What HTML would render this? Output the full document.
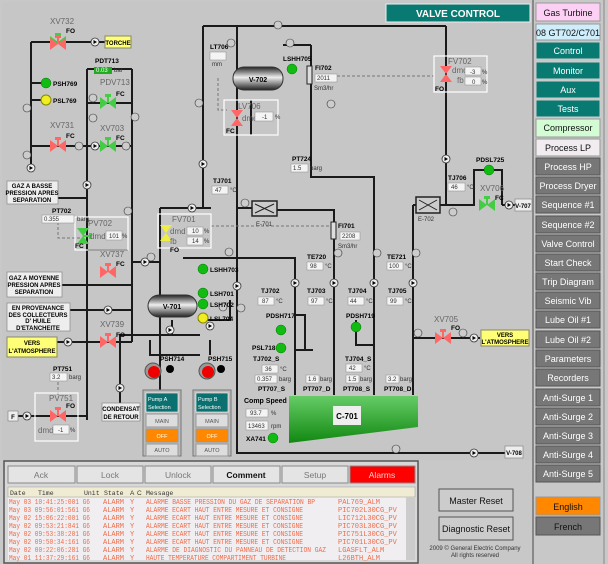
<!DOCTYPE html>
<html><head><meta charset="utf-8"><style>
html,body{margin:0;padding:0;background:#c8c8c8}
svg{display:block}
text{font-family:"Liberation Sans",sans-serif}
.l{font-size:7px;font-weight:bold;fill:#000}
.g{font-size:8px;fill:#666}
.s{font-size:6px;fill:#333}
.p{stroke:#1a1a1a;stroke-width:2;fill:none}
.d{stroke:#777;stroke-width:1;fill:none;stroke-dasharray:3 2}
.bx{fill:#eee;stroke:#888;stroke-width:.7}
.fr{fill:none;stroke:#fff;stroke-width:1.2}
.nb{font-size:9px;fill:#fff;text-anchor:middle}
.nd{font-size:9px;fill:#111;text-anchor:middle}
.m text{font-family:"Liberation Mono",monospace;font-size:7px;fill:#f06a48}
</style></head><body>
<svg width="608" height="564" viewBox="0 0 608 564" xmlns="http://www.w3.org/2000/svg">
<defs>
<g id="vg"><polygon points="-8,-6 0,0 -8,6" fill="#4c4"/><polygon points="8,-6 0,0 8,6" fill="#4c4"/><rect x="-3" y="-9" width="6" height="3" fill="#4c4"/><line x1="0" y1="-6" x2="0" y2="0" stroke="#4c4" stroke-width="2"/></g>
<g id="vr"><polygon points="-8,-6 0,0 -8,6" fill="#f66"/><polygon points="8,-6 0,0 8,6" fill="#f66"/><rect x="-3" y="-9" width="6" height="3" fill="#f66"/><line x1="0" y1="-6" x2="0" y2="0" stroke="#f66" stroke-width="2"/></g>
<g id="ci"><circle r="4" fill="#eee" stroke="#333" stroke-width=".8"/><polygon points="-1.5,-2 2,0 -1.5,2" fill="#000"/></g>
<g id="ca"><circle r="4" fill="#ccc" stroke="#333" stroke-width=".6"/></g>
<linearGradient id="tk" x1="0" y1="0" x2="0" y2="1"><stop offset="0" stop-color="#222"/><stop offset=".45" stop-color="#eee"/><stop offset="1" stop-color="#222"/></linearGradient>
<linearGradient id="cg" x1="0" y1="0" x2="0" y2="1"><stop offset="0" stop-color="#6c6"/><stop offset="1" stop-color="#181"/></linearGradient>
</defs>
<rect width="608" height="564" fill="#c8c8c8"/>
<rect x="2" y="2" width="530" height="458" fill="#c6c6c6"/>

<path class="p" d="M31,42 H105 M31,42 V168 M31,83 H42 M31,100 H42 M31,146 H132 M87,69 H132 M87,69 V420 M132,69 V300 M87,103 H132 M87,250 H128 M58,198 H87 M132,262 H160 M160,208 V420 M160,208 H211 M132,270 V300 M62,285 H132 M70,310 H132 M57,342 H132 M132,300 V342 M18,416 H87 M87,420 V300"/>
<path class="d" d="M58,222 V238 H80 M58,382 V395"/>
<path class="p" d="M203,26 H446 M203,26 V208 M237,26 V453 H505 M237,208 H252 M276,210 H334 V395 M311,45 V177 H374 V395 M283,45 H311 M251,135 V100 M374,177 V395 M413,205 V395 M413,205 H475 M446,26 V205 M502,205 H515 M183,258 H295 V395 M198,320 H230 V300 M413,338 H480 M296,315 H305 V350 H296 M304,350 H313"/>
<path class="d" d="M211,226 H333 M337,76 H434 M218,78 V110 H227"/>
<path class="p" d="M474,205 V170 H502 V205 M356,320 V345 H374 M172,320 V335 H120 V405 M172,335 H200 M150,340 V355 H200 M210,340 V355 H210"/>

<use href="#vg" x="58" y="42"/><use href="#vr" x="58" y="44"/>
<use href="#vr" x="58" y="146"/><use href="#vg" x="108" y="103"/><use href="#vg" x="108" y="146"/>
<use href="#vr" x="108" y="272"/><use href="#vr" x="108" y="342"/><use href="#vr" x="58" y="416"/>
<use href="#vg" x="487" y="205"/><use href="#vr" x="443" y="338"/>
<g transform="translate(83,236) rotate(90)"><use href="#vg"/></g>
<g transform="translate(166,233) rotate(90)"><polygon points="-8,-6 0,0 -8,6" fill="#ee4"/><polygon points="8,-6 0,0 8,6" fill="#ee4"/></g>
<g transform="translate(237,118) rotate(90)"><polygon points="-8,-6 0,0 -8,6" fill="#f66"/><polygon points="8,-6 0,0 8,6" fill="#f66"/></g>
<g transform="translate(446,74) rotate(90)"><polygon points="-8,-6 0,0 -8,6" fill="#f66"/><polygon points="8,-6 0,0 8,6" fill="#f66"/></g>

<use href="#ci" x="31" y="168"/><use href="#ci" x="95" y="146"/><use href="#ci" x="95" y="42"/><use href="#ci" x="87" y="185"/><use href="#ci" x="145" y="262"/><use href="#ci" x="68" y="342"/><use href="#ci" x="108" y="310"/><use href="#ci" x="27" y="416"/><use href="#ci" x="120" y="388"/><use href="#ci" x="170" y="330"/><use href="#ci" x="203" y="164"/><use href="#ci" x="192" y="208"/><use href="#ci" x="237" y="286"/><use href="#ci" x="295" y="283"/><use href="#ci" x="334" y="283"/><use href="#ci" x="374" y="283"/><use href="#ci" x="413" y="283"/><use href="#ci" x="446" y="159"/><use href="#ci" x="509" y="205"/><use href="#ci" x="474" y="338"/><use href="#ci" x="474" y="453"/><use href="#ci" x="210" y="326"/>
<use href="#ca" x="79" y="146"/><use href="#ca" x="126" y="146"/><use href="#ca" x="27" y="108"/><use href="#ca" x="27" y="155"/><use href="#ca" x="93" y="98"/><use href="#ca" x="93" y="118"/><use href="#ca" x="135" y="117"/><use href="#ca" x="128" y="211"/><use href="#ca" x="151" y="257"/><use href="#ca" x="278" y="25"/><use href="#ca" x="231" y="43"/><use href="#ca" x="290" y="43"/><use href="#ca" x="199" y="103"/><use href="#ca" x="245" y="203"/><use href="#ca" x="229" y="252"/><use href="#ca" x="241" y="308"/><use href="#ca" x="223" y="307"/><use href="#ca" x="331" y="104"/><use href="#ca" x="453" y="212"/><use href="#ca" x="338" y="253"/><use href="#ca" x="377" y="253"/><use href="#ca" x="416" y="253"/><use href="#ca" x="418" y="333"/><use href="#ca" x="463" y="333"/><use href="#ca" x="396" y="449"/>

<rect x="233" y="67" width="50" height="23" rx="11" fill="url(#tk)" stroke="#333"/>
<text x="258" y="82" class="l" text-anchor="middle">V-702</text>
<rect x="148" y="295" width="49" height="22" rx="11" fill="url(#tk)" stroke="#333"/>
<text x="172" y="309" class="l" text-anchor="middle">V-701</text>
<rect x="252" y="201" width="25" height="15" fill="#ccc" stroke="#222" stroke-width="1.5"/><path d="M255,204 L274,213 M255,213 L274,204" stroke="#222"/>
<rect x="416" y="197" width="24" height="16" fill="#ccc" stroke="#222" stroke-width="1.5"/><path d="M419,200 L437,210 M419,210 L437,200" stroke="#222"/>
<text x="256" y="226" class="s">E-701</text><text x="418" y="221" class="s">E-702</text>
<rect x="307" y="66" width="5" height="18" fill="#ddd" stroke="#222"/><rect x="331" y="222" width="5" height="17" fill="#ddd" stroke="#222"/>

<polygon points="289,396 418,396 418,427 289,443" fill="url(#cg)"/>
<rect x="333" y="406" width="28" height="19" fill="#eee"/><text x="347" y="419" class="l" text-anchor="middle" style="font-size:8px">C-701</text>

<g fill="#999" stroke="#555"><circle cx="153" cy="371" r="8"/><circle cx="207" cy="371" r="8"/></g>
<circle cx="154" cy="372" r="6" fill="#e00"/><circle cx="208" cy="372" r="6" fill="#e00"/>
<circle cx="170" cy="369" r="4" fill="#000"/><circle cx="221" cy="369" r="4" fill="#000"/>

<g stroke="#070" stroke-width=".5" fill="#1b1">
<circle cx="46" cy="83" r="5"/><circle cx="292" cy="69" r="5"/><circle cx="489" cy="170" r="5"/><circle cx="203" cy="269" r="5"/><circle cx="203" cy="293" r="5"/><circle cx="203" cy="304" r="5"/><circle cx="281" cy="330" r="5"/><circle cx="281" cy="348" r="5"/><circle cx="356" cy="327" r="5"/><circle cx="273" cy="438" r="5"/></g>
<circle cx="46" cy="100" r="5" fill="#ee2" stroke="#880"/><circle cx="203" cy="318" r="5" fill="#ee2" stroke="#880"/>

<g class="bx"><rect x="7" y="181" width="51" height="23"/><rect x="7" y="272" width="55" height="25"/><rect x="7" y="303" width="63" height="28"/><rect x="102" y="403" width="38" height="18"/><rect x="8" y="411" width="10" height="10"/><rect x="505" y="446" width="18" height="12"/><rect x="515" y="199" width="17" height="12"/></g>
<rect x="105" y="36" width="26" height="12" fill="#ff7" stroke="#886"/><rect x="7" y="337" width="50" height="20" fill="#ff7" stroke="#886"/><rect x="481" y="330" width="48" height="16" fill="#ff7" stroke="#886"/>
<g class="l" text-anchor="middle" style="font-size:6px">
<text x="118" y="45">TORCHE</text><text x="32" y="188">GAZ A BASSE</text><text x="32" y="195">PRESSION APRES</text><text x="32" y="202">SEPARATION</text>
<text x="34" y="280">GAZ A MOYENNE</text><text x="34" y="287">PRESSION APRES</text><text x="34" y="294">SEPARATION</text>
<text x="38" y="310">EN PROVENANCE</text><text x="38" y="317">DES COLLECTEURS</text><text x="38" y="323">D' HUILE</text><text x="38" y="330">D'ETANCHEITE</text>
<text x="32" y="345">VERS</text><text x="32" y="353">L'ATMOSPHERE</text><text x="505" y="337">VERS</text><text x="505" y="344">L'ATMOSPHERE</text>
<text x="121" y="411">CONDENSAT</text><text x="121" y="419">DE RETOUR</text><text x="13" y="419">F</text><text x="514" y="455">V-708</text><text x="523" y="208">V-707</text></g>

<g class="fr"><rect x="75" y="217" width="53" height="33"/><rect x="158" y="214" width="53" height="34"/><rect x="224" y="100" width="54" height="35"/><rect x="434" y="56" width="53" height="36"/><rect x="35" y="393" width="43" height="48"/></g>
<g class="g"><text x="88" y="226">PV702</text><text x="172" y="222">FV701</text><text x="238" y="109">LV706</text><text x="448" y="64">FV702</text><text x="49" y="401">PV751</text><text x="50" y="24">XV732</text><text x="50" y="128">XV731</text><text x="100" y="85">PDV713</text><text x="100" y="131">XV703</text><text x="100" y="257">XV737</text><text x="100" y="327">XV739</text><text x="434" y="322">XV705</text><text x="480" y="191">XV706</text>
<text x="90" y="239">dmd</text><text x="170" y="234">dmd</text><text x="170" y="244">fb</text><text x="242" y="121">dmd</text><text x="452" y="73">dmd</text><text x="457" y="83">fb</text><text x="38" y="433">dmd</text></g>
<g fill="#f4f4f4" stroke="#999" stroke-width=".6"><rect x="106" y="231" width="16" height="9"/><rect x="187" y="227" width="16" height="8"/><rect x="187" y="237" width="16" height="8"/><rect x="255" y="112" width="18" height="9"/><rect x="465" y="67" width="16" height="8"/><rect x="465" y="77" width="16" height="8"/><rect x="53" y="425" width="16" height="9"/>
<rect x="42" y="215" width="32" height="8"/><rect x="210" y="52" width="16" height="8"/><rect x="212" y="186" width="16" height="8"/><rect x="291" y="164" width="17" height="8"/><rect x="448" y="183" width="17" height="8"/><rect x="315" y="74" width="22" height="8"/><rect x="340" y="232" width="20" height="8"/><rect x="50" y="373" width="17" height="8"/>
<rect x="307" y="262" width="16" height="8"/><rect x="387" y="262" width="16" height="8"/><rect x="258" y="297" width="16" height="8"/><rect x="308" y="297" width="16" height="8"/><rect x="348" y="297" width="16" height="8"/><rect x="387" y="297" width="16" height="8"/><rect x="262" y="365" width="16" height="8"/><rect x="346" y="364" width="16" height="8"/><rect x="255" y="375" width="22" height="8"/><rect x="306" y="375" width="13" height="8"/><rect x="346" y="375" width="13" height="8"/><rect x="386" y="375" width="13" height="8"/><rect x="246" y="409" width="22" height="8"/><rect x="246" y="421" width="22" height="9"/></g>
<rect x="94" y="67" width="18" height="7" fill="#2a2"/>
<g class="s" style="font-size:6px">
<text x="109" y="238">101</text><text x="122" y="238">%</text><text x="192" y="233">10</text><text x="192" y="243">14</text><text x="204" y="233">%</text><text x="204" y="243">%</text><text x="262" y="119">-1</text><text x="275" y="119">%</text><text x="470" y="74">-3</text><text x="472" y="84">0</text><text x="482" y="74">%</text><text x="482" y="84">%</text><text x="58" y="432">-1</text><text x="70" y="432">%</text>
<text x="44" y="221">0.355</text><text x="77" y="221">barg</text><text x="215" y="192">47</text><text x="230" y="192">°C</text><text x="293" y="170">1.5</text><text x="310" y="170">barg</text><text x="451" y="189">46</text><text x="467" y="189">°C</text><text x="317" y="80">2011</text><text x="314" y="90">Sm3/hr</text><text x="342" y="238">2208</text><text x="338" y="248">Sm3/hr</text><text x="52" y="379">3.2</text><text x="69" y="379">barg</text><text x="96" y="72" fill="#fff">0.03</text><text x="114" y="72">bar</text><text x="212" y="66">mm</text>
<text x="310" y="268">98</text><text x="325" y="268">°C</text><text x="389" y="268">100</text><text x="405" y="268">°C</text><text x="262" y="303">87</text><text x="276" y="303">°C</text><text x="311" y="303">97</text><text x="326" y="303">°C</text><text x="350" y="303">44</text><text x="366" y="303">°C</text><text x="390" y="303">99</text><text x="405" y="303">°C</text><text x="265" y="371">36</text><text x="280" y="371">°C</text><text x="349" y="370">42</text><text x="364" y="370">°C</text><text x="257" y="381">0.357</text><text x="279" y="381">barg</text><text x="308" y="381">1.6</text><text x="320" y="381">barg</text><text x="348" y="381">1.5</text><text x="360" y="381">barg</text><text x="388" y="381">3.2</text><text x="400" y="381">barg</text><text x="250" y="415">93.7</text><text x="271" y="415">%</text><text x="248" y="428">13463</text><text x="271" y="428">rpm</text></g>
<g class="l" style="font-size:6.5px">
<text x="95" y="63">PDT713</text><text x="53" y="86">PSH769</text><text x="53" y="103">PSL769</text><text x="52" y="213">PT702</text><text x="210" y="49">LT706</text><text x="283" y="61">LSHH705</text><text x="315" y="70">FI702</text><text x="213" y="183">TJ701</text><text x="292" y="161">PT724</text><text x="448" y="180">TJ706</text><text x="476" y="162">PDSL725</text><text x="338" y="228">FI701</text>
<text x="210" y="272">LSHH703</text><text x="210" y="296">LSH701</text><text x="210" y="307">LSH702</text><text x="210" y="321">LSL704</text><text x="53" y="371">PT751</text><text x="160" y="361">PSH714</text><text x="208" y="361">PSH715</text>
<text x="307" y="259">TE720</text><text x="387" y="259">TE721</text><text x="261" y="293">TJ702</text><text x="307" y="293">TJ703</text><text x="348" y="293">TJ704</text><text x="388" y="293">TJ705</text><text x="266" y="318">PDSH717</text><text x="346" y="318">PDSH719</text><text x="252" y="350">PSL718</text><text x="253" y="361">TJ702_S</text><text x="345" y="361">TJ704_S</text><text x="258" y="391">PT707_S</text><text x="303" y="391">PT707_D</text><text x="343" y="391">PT708_S</text><text x="384" y="391">PT708_D</text><text x="244" y="403" style="font-size:7px">Comp Speed</text><text x="246" y="441">XA741</text>
<text x="66" y="33">FO</text><text x="66" y="138">FC</text><text x="116" y="96">FC</text><text x="116" y="140">FC</text><text x="116" y="266">FC</text><text x="116" y="337">FO</text><text x="66" y="408">FO</text><text x="75" y="248">FC</text><text x="170" y="252">FO</text><text x="226" y="133">FC</text><text x="435" y="91">FO</text><text x="495" y="200">FC</text><text x="451" y="330">FO</text></g>

<g><rect x="143" y="390" width="38" height="66" fill="#bbb" stroke="#777"/><rect x="146" y="393" width="32" height="19" fill="#0a7070" stroke="#fff" stroke-width=".6"/><rect x="146" y="414" width="32" height="13" fill="#ddd" stroke="#999"/><rect x="146" y="429" width="32" height="13" fill="#f80" stroke="#999"/><rect x="146" y="444" width="32" height="12" fill="#ddd" stroke="#999"/>
<rect x="193" y="390" width="38" height="66" fill="#bbb" stroke="#777"/><rect x="196" y="393" width="32" height="19" fill="#0a7070" stroke="#fff" stroke-width=".6"/><rect x="196" y="414" width="32" height="13" fill="#ddd" stroke="#999"/><rect x="196" y="429" width="32" height="13" fill="#f80" stroke="#999"/><rect x="196" y="444" width="32" height="12" fill="#ddd" stroke="#999"/></g>
<g font-size="5.5" fill="#fff"><text x="148" y="401">Pump A</text><text x="148" y="409">Selection</text><text x="198" y="401">Pump B</text><text x="198" y="409">Selection</text></g>
<g font-size="5.5" fill="#555" text-anchor="middle"><text x="162" y="423">MAIN</text><text x="162" y="438" fill="#fff">OFF</text><text x="162" y="452">AUTO</text><text x="212" y="423">MAIN</text><text x="212" y="438" fill="#fff">OFF</text><text x="212" y="452">AUTO</text></g>

<rect x="386" y="4" width="144" height="18" fill="#087a72" stroke="#eee"/>
<text x="458" y="17" font-size="10" font-weight="bold" fill="#fff" text-anchor="middle">VALVE CONTROL</text>

<line x1="533" y1="0" x2="533" y2="564" stroke="#888" stroke-width="2"/>
<line x1="604" y1="0" x2="604" y2="564" stroke="#888" stroke-width="1"/>
<rect x="536" y="3" width="64" height="18" fill="#fcd0f4" stroke="#999"/><text x="568" y="16" class="nd">Gas Turbine</text>
<rect x="536" y="24" width="64" height="16" fill="#cfeefc" stroke="#999"/><text x="568" y="36" class="nd">08 GT702/C701</text>
<g stroke="#ccc"><rect x="536" y="42" width="64" height="17" fill="#087a72"/><rect x="536" y="62" width="64" height="17" fill="#087a72"/><rect x="536" y="81" width="64" height="17" fill="#087a72"/><rect x="536" y="100" width="64" height="17" fill="#087a72"/></g>
<text x="568" y="54" class="nb">Control</text><text x="568" y="74" class="nb">Monitor</text><text x="568" y="93" class="nb">Aux</text><text x="568" y="112" class="nb">Tests</text>
<rect x="536" y="119" width="64" height="18" fill="#d4fcd4" stroke="#999"/><text x="568" y="131" class="nd">Compressor</text>
<rect x="536" y="139" width="64" height="17" fill="#f0ecf0" stroke="#999"/><text x="568" y="151" class="nd">Process LP</text>
<g fill="#777" stroke="#555">
<rect x="536" y="158" width="64" height="17"/><rect x="536" y="177" width="64" height="17"/><rect x="536" y="196" width="64" height="17"/><rect x="536" y="216" width="64" height="17"/><rect x="536" y="235" width="64" height="17"/><rect x="536" y="254" width="64" height="17"/><rect x="536" y="273" width="64" height="17"/><rect x="536" y="292" width="64" height="17"/><rect x="536" y="311" width="64" height="17"/><rect x="536" y="331" width="64" height="17"/><rect x="536" y="350" width="64" height="17"/><rect x="536" y="369" width="64" height="17"/><rect x="536" y="389" width="64" height="17"/><rect x="536" y="408" width="64" height="17"/><rect x="536" y="427" width="64" height="17"/><rect x="536" y="446" width="64" height="17"/><rect x="536" y="465" width="64" height="17"/></g>
<g class="nb" fill="#eee"><text x="568" y="170">Process HP</text><text x="568" y="189">Process Dryer</text><text x="568" y="208">Sequence #1</text><text x="568" y="228">Sequence #2</text><text x="568" y="247">Valve Control</text><text x="568" y="266">Start Check</text><text x="568" y="285">Trip Diagram</text><text x="568" y="304">Seismic Vib</text><text x="568" y="323">Lube Oil #1</text><text x="568" y="343">Lube Oil #2</text><text x="568" y="362">Parameters</text><text x="568" y="381">Recorders</text><text x="568" y="401">Anti-Surge 1</text><text x="568" y="420">Anti-Surge 2</text><text x="568" y="439">Anti-Surge 3</text><text x="568" y="458">Anti-Surge 4</text><text x="568" y="477">Anti-Surge 5</text></g>
<rect x="536" y="497" width="64" height="18" fill="#f80" stroke="#999"/><text x="568" y="510" class="nd">English</text>
<rect x="536" y="517" width="64" height="18" fill="#777" stroke="#555"/><text x="568" y="530" class="nd">French</text>

<rect x="4" y="461" width="414" height="102" fill="#d8d8d8" stroke="#555" stroke-width="1.5"/>
<g stroke="#888" fill="#e4e4e4"><rect x="8" y="466" width="67" height="17"/><rect x="77" y="466" width="66" height="17"/><rect x="145" y="466" width="66" height="17"/><rect x="213" y="466" width="67" height="17"/><rect x="282" y="466" width="66" height="17"/><rect x="350" y="466" width="65" height="17" fill="#f00"/></g>
<g font-size="8.5" text-anchor="middle" fill="#777"><text x="41" y="478">Ack</text><text x="110" y="478">Lock</text><text x="178" y="478">Unlock</text><text x="246" y="478" fill="#111" font-weight="bold">Comment</text><text x="315" y="478">Setup</text><text x="382" y="478" fill="#fcc">Alarms</text></g>
<rect x="8" y="487" width="398" height="73" fill="#f0eef0"/>
<rect x="8" y="487" width="407" height="10" fill="#f0ecd4" stroke="#999" stroke-width=".5"/>
<rect x="406" y="497" width="9" height="63" fill="#ccc"/>
<g font-size="6.5" fill="#333"><text x="10" y="495" style="font-family:'Liberation Mono',monospace">Date</text><text x="38" y="495" style="font-family:'Liberation Mono',monospace">Time</text><text x="84" y="495" style="font-family:'Liberation Mono',monospace">Unit</text><text x="104" y="495" style="font-family:'Liberation Mono',monospace">State</text><text x="130" y="495">A</text><text x="137" y="495">C</text><text x="146" y="495" style="font-family:'Liberation Mono',monospace">Message</text></g>
<g class="m">
<text x="9" y="504" textLength="81" lengthAdjust="spacingAndGlyphs">May 03 10:41:25:001 G6</text><text x="103" y="504">ALARM</text><text x="130" y="504">Y</text><text x="146" y="504" textLength="169" lengthAdjust="spacingAndGlyphs">ALARME BASSE PRESSION DU GAZ DE SEPARATION BP</text><text x="338" y="504">PAL769_ALM</text>
<text x="9" y="512" textLength="81" lengthAdjust="spacingAndGlyphs">May 03 09:56:01:561 G6</text><text x="103" y="512">ALARM</text><text x="130" y="512">Y</text><text x="146" y="512" textLength="157" lengthAdjust="spacingAndGlyphs">ALARME ECART HAUT ENTRE MESURE ET CONSIGNE</text><text x="338" y="512">PIC702L30CG_PV</text>
<text x="9" y="520" textLength="81" lengthAdjust="spacingAndGlyphs">May 02 15:06:22:001 G6</text><text x="103" y="520">ALARM</text><text x="130" y="520">Y</text><text x="146" y="520" textLength="157" lengthAdjust="spacingAndGlyphs">ALARME ECART HAUT ENTRE MESURE ET CONSIGNE</text><text x="338" y="520">LIC712L30CG_PV</text>
<text x="9" y="528" textLength="81" lengthAdjust="spacingAndGlyphs">May 02 09:53:21:841 G6</text><text x="103" y="528">ALARM</text><text x="130" y="528">Y</text><text x="146" y="528" textLength="157" lengthAdjust="spacingAndGlyphs">ALARME ECART HAUT ENTRE MESURE ET CONSIGNE</text><text x="338" y="528">PIC703L30CG_PV</text>
<text x="9" y="536" textLength="81" lengthAdjust="spacingAndGlyphs">May 02 09:53:38:201 G6</text><text x="103" y="536">ALARM</text><text x="130" y="536">Y</text><text x="146" y="536" textLength="157" lengthAdjust="spacingAndGlyphs">ALARME ECART HAUT ENTRE MESURE ET CONSIGNE</text><text x="338" y="536">PIC751L30CG_PV</text>
<text x="9" y="544" textLength="81" lengthAdjust="spacingAndGlyphs">May 02 09:50:34:161 G6</text><text x="103" y="544">ALARM</text><text x="130" y="544">Y</text><text x="146" y="544" textLength="157" lengthAdjust="spacingAndGlyphs">ALARME ECART HAUT ENTRE MESURE ET CONSIGNE</text><text x="338" y="544">PIC701L30CG_PV</text>
<text x="9" y="552" textLength="81" lengthAdjust="spacingAndGlyphs">May 02 00:22:06:281 G6</text><text x="103" y="552">ALARM</text><text x="130" y="552">Y</text><text x="146" y="552" textLength="180" lengthAdjust="spacingAndGlyphs">ALARME DE DIAGNOSTIC DU PANNEAU DE DETECTION GAZ</text><text x="338" y="552">LGASFLT_ALM</text>
<text x="9" y="560" textLength="81" lengthAdjust="spacingAndGlyphs">May 01 11:37:29:161 G6</text><text x="103" y="560">ALARM</text><text x="130" y="560">Y</text><text x="146" y="560" textLength="140" lengthAdjust="spacingAndGlyphs">HAUTE TEMPERATURE COMPARTIMENT TURBINE</text><text x="338" y="560">L26BTH_ALM</text></g>

<rect x="439" y="489" width="74" height="22" fill="#ccc" stroke="#555"/><text x="476" y="504" class="nd">Master Reset</text>
<rect x="439" y="517" width="74" height="23" fill="#ccc" stroke="#555"/><text x="476" y="532" class="nd">Diagnostic Reset</text>
<text x="475" y="550" font-size="6" fill="#333" text-anchor="middle">2009 © General Electric Company</text>
<text x="475" y="557" font-size="6" fill="#333" text-anchor="middle">All rights reserved</text>
</svg>
</body></html>
